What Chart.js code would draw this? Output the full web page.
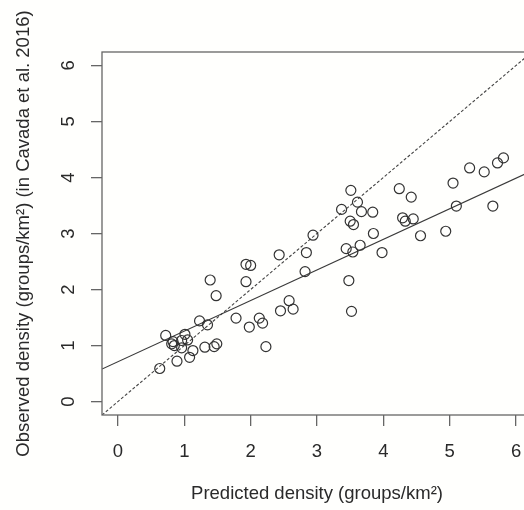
<!DOCTYPE html>
<html>
<head>
<meta charset="utf-8">
<script src="https://cdn.jsdelivr.net/npm/chart.js@4/dist/chart.umd.min.js"></script>
<style>
  html, body { margin: 0; padding: 0; background: #fffffd; overflow: hidden; }
  #wrap { width: 540px; height: 510px; }
</style>
</head>
<body>
<div id="wrap"><canvas id="chartDensity" width="540" height="510"></canvas></div>
<script>
// predicted vs observed density
const predX = [0.63, 0.72, 0.83, 0.81, 0.85, 0.96, 1.05, 1.01, 0.96, 1.13, 1.08, 0.89, 1.23, 1.35, 1.31, 1.45, 1.49,
    1.39, 1.48, 1.78, 1.98, 2.13, 2.18, 2.23, 1.93, 2.00, 1.93, 2.43, 2.84, 2.82, 2.45, 2.58, 2.64, 2.94,
    3.44, 3.54, 3.65, 3.98, 3.48, 3.52, 3.50, 3.55, 3.37, 3.67, 3.84, 3.61, 3.51, 4.24, 4.42, 4.29, 4.33, 4.45,
    3.85, 4.56, 4.94, 5.05, 5.10, 5.65, 5.30, 5.52, 5.72, 5.81];
const obsY = [0.59, 1.18, 1.07, 1.03, 1.00, 1.09, 1.10, 1.20, 0.96, 0.91, 0.79, 0.72, 1.44, 1.37, 0.97, 0.98, 1.03,
    2.17, 1.89, 1.49, 1.33, 1.49, 1.40, 0.98, 2.45, 2.43, 2.14, 2.62, 2.66, 2.32, 1.62, 1.80, 1.65, 2.97,
    2.73, 2.67, 2.79, 2.66, 2.16, 1.61, 3.22, 3.16, 3.43, 3.39, 3.38, 3.56, 3.77, 3.80, 3.65, 3.28, 3.22, 3.26,
    3.00, 2.96, 3.04, 3.90, 3.49, 3.49, 4.17, 4.10, 4.26, 4.35];

// fitted regression (solid) and 1:1 line (dashed), end points at the plot edges
const fitX = [-0.24, 6.24];
const fitY = [0.58, 4.12];
const oneX = [-0.24, 6.24];
const oneY = [-0.24, 6.24];

const axisTicks = [0, 1, 2, 3, 4, 5, 6];
const axisMin = -0.24, axisMax = 6.24;

const FONT = '"Liberation Sans", Arial, Helvetica, sans-serif';
const FSIZE = 18.5;
const INK = '#2a2a2a';
const AXIS = '#666';

const toXY = (xs, ys) => xs.map((x, i) => ({ x, y: ys[i] }));

// box around the plot + rotated y tick labels (R style)
const rBox = {
    id: 'rBox',
    afterDraw(chart) {
        const { ctx, chartArea: a, scales } = chart;
        ctx.save();
        ctx.strokeStyle = AXIS;
        ctx.lineWidth = 1.3;
        ctx.strokeRect(a.left, a.top, a.right - a.left, a.bottom - a.top);
        ctx.fillStyle = INK;
        ctx.font = FSIZE + 'px ' + FONT;
        ctx.textAlign = 'center';
        ctx.textBaseline = 'middle';
        scales.y.ticks.forEach(t => {
            const py = scales.y.getPixelForValue(t.value);
            ctx.save();
            ctx.translate(69, py);
            ctx.rotate(-Math.PI / 2);
            ctx.fillText(String(t.value), 0, 0);
            ctx.restore();
        });
        ctx.restore();
    }
};

new Chart(document.getElementById('chartDensity'), {
    type: 'scatter',
    data: {
        datasets: [
            {
                label: 'sites',
                data: toXY(predX, obsY),
                showLine: false,
                pointStyle: 'circle',
                pointRadius: 5,
                pointBorderWidth: 1.2,
                pointBorderColor: '#333',
                pointBackgroundColor: 'rgba(0,0,0,0)'
            },
            {
                label: 'fit',
                type: 'line',
                data: toXY(fitX, fitY),
                borderColor: '#3a3a3a',
                borderWidth: 1.2,
                pointRadius: 0,
                fill: false
            },
            {
                label: '1:1',
                type: 'line',
                data: toXY(oneX, oneY),
                borderColor: '#444',
                borderWidth: 1.1,
                borderDash: [3, 2],
                pointRadius: 0,
                fill: false
            }
        ]
    },
    options: {
        responsive: false,
        animation: false,
        layout: { padding: { top: 52, right: 8, left: 0, bottom: 0 } },
        plugins: { legend: { display: false }, tooltip: { enabled: false } },
        scales: {
            x: {
                type: 'linear',
                min: axisMin, max: axisMax,
                afterBuildTicks: s => { s.ticks = axisTicks.map(v => ({ value: v })); },
                afterFit: s => { s.height = 95; },
                border: { display: false },
                grid: { drawOnChartArea: false, drawTicks: true, tickLength: 11, color: AXIS, lineWidth: 1.3 },
                ticks: { color: INK, font: { size: FSIZE, family: FONT }, padding: 15, maxRotation: 0, autoSkip: false },
                title: { display: true, text: 'Predicted density (groups/km²)', color: INK,
                    font: { size: FSIZE, family: FONT }, padding: { top: 0, bottom: 5 } }
            },
            y: {
                type: 'linear',
                min: axisMin, max: axisMax,
                afterBuildTicks: s => { s.ticks = axisTicks.map(v => ({ value: v })); },
                afterFit: s => { s.width = 102; },
                border: { display: false },
                grid: { drawOnChartArea: false, drawTicks: true, tickLength: 11, color: AXIS, lineWidth: 1.3 },
                ticks: { display: false },
                title: { display: true, text: 'Observed density (groups/km²) (in Cavada et al. 2016)', color: INK,
                    font: { size: FSIZE, family: FONT }, padding: { top: 13, bottom: 0 } }
            }
        }
    },
    plugins: [rBox]
});
</script>
</body>
</html>
